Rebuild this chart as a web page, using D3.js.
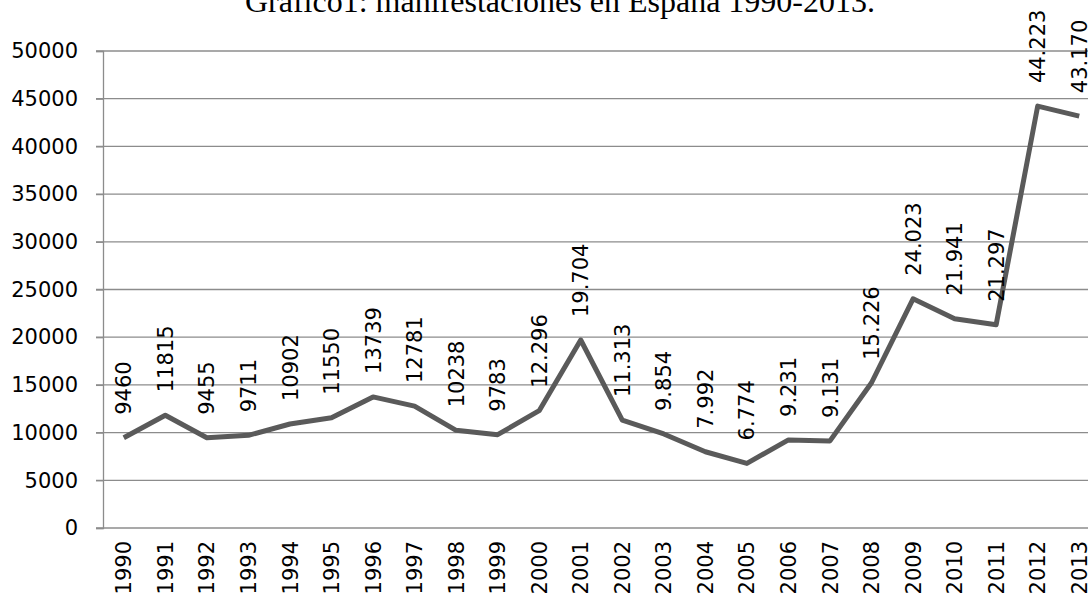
<!DOCTYPE html>
<html lang="es">
<head>
<meta charset="utf-8">
<title>Grafico1</title>
<style>
  body { margin: 0; background: #fff; }
  .tick-label { font-family: "DejaVu Sans", sans-serif; font-size: 21px; fill: #000; }
  .grid line { stroke: #8c8c8c; stroke-width: 1.3px; }
  .serie { fill: none; stroke: #5a5a5a; stroke-width: 5px; stroke-linejoin: round; }
</style>
</head>
<body>
<svg width="1088" height="599"></svg>
<script src="https://d3js.org/d3.v7.min.js"></script>
<script>
var years = ["1990","1991","1992","1993","1994","1995","1996","1997","1998","1999","2000","2001",
             "2002","2003","2004","2005","2006","2007","2008","2009","2010","2011","2012","2013"];
var values = [9460, 11815, 9455, 9711, 10902, 11550, 13739, 12781, 10238, 9783, 12296, 19704,
              11313, 9854, 7992, 6774, 9231, 9131, 15226, 24023, 21941, 21297, 44223, 43170];
var valueLabels = ["9460","11815","9455","9711","10902","11550","13739","12781","10238","9783","12.296","19.704",
                   "11.313","9.854","7.992","6.774","9.231","9.131","15.226","24.023","21.941","21.297","44.223","43.170"];
var yTicks = [0, 5000, 10000, 15000, 20000, 25000, 30000, 35000, 40000, 45000, 50000];
var title = "Grafico1: manifestaciones en España 1990-2013.";

var svg = d3.select("svg");

var x = d3.scaleBand().domain(years).range([103, 1100]).padding(0);
var y = d3.scaleLinear().domain([0, 50000]).range([528, 51]);

// title (cut at the top in the original)
svg.append("text")
   .attr("x", 560)
   .attr("y", 12)
   .attr("text-anchor", "middle")
   .style("font-family", "'Liberation Serif', 'Times New Roman', serif")
   .style("font-size", "32px")
   .text(title);

// gridlines
svg.append("g").attr("class", "grid")
   .selectAll("line")
   .data(yTicks.filter(function(d) { return d > 0; }))
   .enter().append("line")
   .attr("x1", 96).attr("x2", 1100)
   .attr("y1", function(d) { return y(d); })
   .attr("y2", function(d) { return y(d); });

// axes
var yAxis = d3.axisLeft(y).tickValues(yTicks).tickSize(7).tickPadding(18).tickFormat(d3.format("d"));
var gy = svg.append("g").attr("transform", "translate(103,0)").call(yAxis);
gy.select(".domain").attr("stroke", "#8c8c8c").attr("stroke-width", 1.3);
gy.selectAll(".tick line").attr("stroke", "#8c8c8c").attr("stroke-width", 1.3);
gy.selectAll(".tick text").attr("class", "tick-label").attr("fill", "#000");

var xAxis = d3.axisBottom(x).tickSize(0).tickPadding(0);
var gx = svg.append("g").attr("transform", "translate(0,528)").call(xAxis);
gx.select(".domain").remove();
gx.append("line").attr("x1", 96).attr("x2", 1100).attr("y1", 0).attr("y2", 0)
  .attr("stroke", "#8c8c8c").attr("stroke-width", 1.3);
gx.selectAll(".tick text")
  .attr("class", "tick-label")
  .attr("fill", "#000")
  .attr("text-anchor", "end")
  .attr("transform", "translate(0,13) rotate(-90)")
  .attr("x", 0).attr("y", 0).attr("dy", "0.36em");

// line
var cx = function(i) { return x(years[i]) + x.bandwidth() / 2; };
var line = d3.line()
   .x(function(d, i) { return cx(i); })
   .y(function(d) { return y(d); });
svg.append("path").attr("class", "serie").attr("d", line(values));

// data labels
var labels = svg.append("g").selectAll("text")
   .data(values)
   .enter().append("text")
   .attr("class", "tick-label")
   .text(function(d, i) { return valueLabels[i]; });
labels.each(function(d, i) {
  var w = this.getComputedTextLength();
  var by = Math.max(y(d) - 23, w + 4);
  d3.select(this)
    .attr("transform", "translate(" + cx(i) + "," + by + ") rotate(-90)")
    .attr("dy", "0.36em");
});
</script>
</body>
</html>
